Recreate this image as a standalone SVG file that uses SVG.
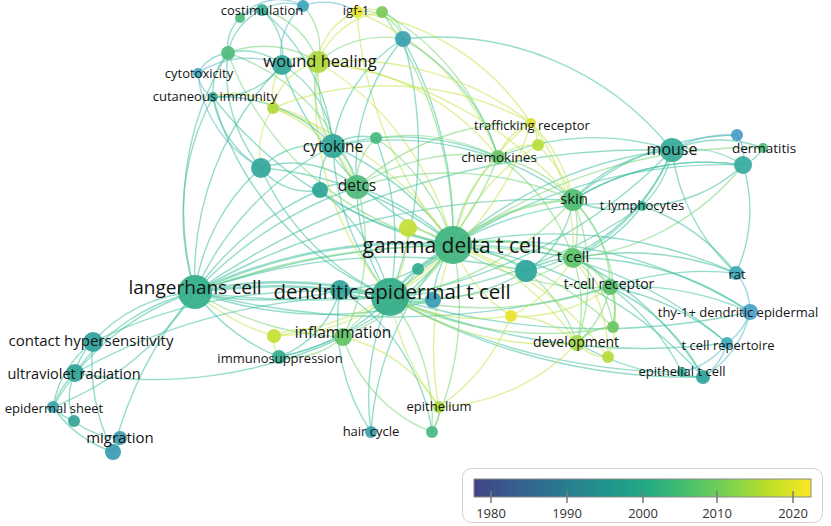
<svg xmlns="http://www.w3.org/2000/svg" width="831" height="526" viewBox="0 0 831 526">
<style>
.e path{fill:none;stroke-width:1.4;stroke-opacity:.55}
.t{stroke:#3fc0a0}
.g{stroke:#78d67a}
.y{stroke:#c4e650}
.b{stroke:#58b8c6}
.w{stroke-width:2.6 !important}
circle{fill-opacity:.92}
text{font-family:"Open Sans","Noto Sans","DejaVu Sans",sans-serif;fill:#151515;text-anchor:middle}
.s13{font-size:13px}.s14{font-size:14px}.s15{font-size:15px}.s16{font-size:16px}
.leg{font-size:13px;fill:#333}
</style>
<defs>
<linearGradient id="vir" x1="0" y1="0" x2="1" y2="0">
<stop offset="0" stop-color="#414487"/><stop offset=".125" stop-color="#355f8d"/><stop offset=".25" stop-color="#2a788e"/><stop offset=".375" stop-color="#21918c"/><stop offset=".5" stop-color="#22a884"/><stop offset=".625" stop-color="#44bf70"/><stop offset=".75" stop-color="#7ad151"/><stop offset=".875" stop-color="#bddf26"/><stop offset="1" stop-color="#fde725"/>
</linearGradient>
</defs>
<rect width="831" height="526" fill="#fff"/>
<g id="connectors" class="e">
<path class="t w" d="M195 292A400 400 0 0 1 390 297"/>
<path class="t w" d="M195 292A600 600 0 0 1 390 297"/>
<path class="t" d="M195 292A900 900 0 0 0 390 297"/>
<path class="t w" d="M195 292A500 500 0 0 1 453 245"/>
<path class="t" d="M195 292A800 800 0 0 1 453 245"/>
<path class="t" d="M195 292A600 600 0 0 1 526 271"/>
<path class="g" d="M195 292A700 700 0 0 1 573 258"/>
<path class="t" d="M195 292A700 700 0 0 1 573 200"/>
<path class="t" d="M195 292A400 400 0 0 1 357 187"/>
<path class="t" d="M195 292A300 300 0 0 1 320 190"/>
<path class="t" d="M195 292A200 200 0 0 1 261 168"/>
<path class="t" d="M195 292A300 300 0 0 1 333 146"/>
<path class="t" d="M195 292A250 250 0 0 1 213 97"/>
<path class="t" d="M195 292A300 300 0 0 1 228 53"/>
<path class="t" d="M195 292A300 300 0 0 0 340 290"/>
<path class="t" d="M195 292A400 400 0 0 0 433 300"/>
<path class="t" d="M195 292A150 150 0 0 0 93 342"/>
<path class="t" d="M195 292A200 200 0 0 0 75 373"/>
<path class="t" d="M195 292A250 250 0 0 0 53 407"/>
<path class="t" d="M195 292A400 400 0 0 0 113 452"/>
<path class="t" d="M195 292A200 200 0 0 0 279 357"/>
<path class="y" d="M195 292A200 200 0 0 0 274 336"/>
<path class="g" d="M195 292A300 300 0 0 0 343 337"/>
<path class="t" d="M195 292A800 800 0 0 1 672 150"/>
<path class="t" d="M195 292A800 800 0 0 0 610 287"/>
<path class="t" d="M195 292A300 300 0 0 1 282 65"/>
<path class="t" d="M93 342A60 60 0 0 0 75 373"/>
<path class="t" d="M93 342A100 100 0 0 0 53 407"/>
<path class="t" d="M93 342A500 500 0 0 1 390 297"/>
<path class="t" d="M93 342A200 200 0 0 0 113 452"/>
<path class="t" d="M75 373A80 80 0 0 0 53 407"/>
<path class="t" d="M75 373A60 60 0 0 0 74 421"/>
<path class="t" d="M75 373A450 450 0 0 0 343 337"/>
<path class="t" d="M75 373A600 600 0 0 1 390 297"/>
<path class="t" d="M53 407A50 50 0 0 0 74 421"/>
<path class="t" d="M53 407A120 120 0 0 0 113 452"/>
<path class="t" d="M53 407A300 300 0 0 0 195 292"/>
<path class="t" d="M74 421A80 80 0 0 0 120 438"/>
<path class="t" d="M120 438A20 20 0 0 1 113 452"/>
<path class="t w" d="M453 245A200 200 0 0 0 390 297"/>
<path class="t" d="M453 245A250 250 0 0 0 357 187"/>
<path class="t" d="M453 245A300 300 0 0 0 333 146"/>
<path class="t" d="M453 245A300 300 0 0 1 320 190"/>
<path class="t" d="M453 245A350 350 0 0 0 261 168"/>
<path class="g" d="M453 245A200 200 0 0 0 376 138"/>
<path class="t" d="M453 245A400 400 0 0 0 403 39"/>
<path class="t" d="M453 245A400 400 0 0 1 213 97"/>
<path class="t" d="M453 245A150 150 0 0 1 526 271"/>
<path class="t" d="M453 245A80 80 0 0 1 418 269"/>
<path class="t" d="M453 245A100 100 0 0 0 433 300"/>
<path class="t" d="M453 245A200 200 0 0 1 340 290"/>
<path class="t" d="M453 245A300 300 0 0 1 279 357"/>
<path class="g" d="M453 245A300 300 0 0 1 432 432"/>
<path class="t" d="M453 245A300 300 0 0 0 371 432"/>
<path class="t" d="M453 245A400 400 0 0 1 703 377"/>
<path class="t" d="M453 245A400 400 0 0 1 727 343"/>
<path class="t" d="M453 245A450 450 0 0 1 750 312"/>
<path class="t" d="M453 245A450 450 0 0 1 736 273"/>
<path class="t" d="M453 245A300 300 0 0 1 642 206"/>
<path class="t" d="M453 245A400 400 0 0 1 672 150"/>
<path class="t" d="M453 245A500 500 0 0 1 743 165"/>
<path class="t" d="M453 245A300 300 0 0 1 282 65"/>
<path class="g w" d="M453 245A200 200 0 0 1 573 200"/>
<path class="g w" d="M453 245A200 200 0 0 1 573 258"/>
<path class="g" d="M453 245A250 250 0 0 0 610 287"/>
<path class="g" d="M453 245A150 150 0 0 1 498 157"/>
<path class="g" d="M453 245A250 250 0 0 1 343 337"/>
<path class="g" d="M453 245A300 300 0 0 1 613 327"/>
<path class="g" d="M453 245A400 400 0 0 0 382 12"/>
<path class="g" d="M453 245A500 500 0 0 1 763 148"/>
<path class="g" d="M453 245A300 300 0 0 1 228 53"/>
<path class="y" d="M453 245A300 300 0 0 0 318 62"/>
<path class="y" d="M453 245A400 400 0 0 1 357 12"/>
<path class="y" d="M453 245A350 350 0 0 0 273 108"/>
<path class="y" d="M453 245A100 100 0 0 0 408 228"/>
<path class="y" d="M453 245A300 300 0 0 1 274 336"/>
<path class="y" d="M453 245A300 300 0 0 0 439 407"/>
<path class="y" d="M453 245A250 250 0 0 1 577 343"/>
<path class="y" d="M453 245A150 150 0 0 0 511 316"/>
<path class="y" d="M453 245A300 300 0 0 1 608 357"/>
<path class="y" d="M453 245A200 200 0 0 1 531 123"/>
<path class="y" d="M453 245A200 200 0 0 1 538 145"/>
<path class="t" d="M390 297A200 200 0 0 1 357 187"/>
<path class="t" d="M390 297A250 250 0 0 1 333 146"/>
<path class="t" d="M390 297A200 200 0 0 0 320 190"/>
<path class="t" d="M390 297A250 250 0 0 1 261 168"/>
<path class="t" d="M390 297A300 300 0 0 0 376 138"/>
<path class="t" d="M390 297A400 400 0 0 0 403 39"/>
<path class="t" d="M390 297A80 80 0 0 1 340 290"/>
<path class="t" d="M390 297A80 80 0 0 0 433 300"/>
<path class="t" d="M390 297A80 80 0 0 0 418 269"/>
<path class="t" d="M390 297A200 200 0 0 0 526 271"/>
<path class="t" d="M390 297A500 500 0 0 0 672 150"/>
<path class="t" d="M390 297A200 200 0 0 1 279 357"/>
<path class="t" d="M390 297A250 250 0 0 0 371 432"/>
<path class="g" d="M390 297A200 200 0 0 1 432 432"/>
<path class="t" d="M390 297A600 600 0 0 0 703 377"/>
<path class="t" d="M390 297A600 600 0 0 0 682 372"/>
<path class="t" d="M390 297A650 650 0 0 0 727 343"/>
<path class="t" d="M390 297A700 700 0 0 0 750 312"/>
<path class="t" d="M390 297A500 500 0 0 0 642 206"/>
<path class="t" d="M390 297A300 300 0 0 1 213 97"/>
<path class="g" d="M390 297A300 300 0 0 0 573 258"/>
<path class="g" d="M390 297A400 400 0 0 0 610 287"/>
<path class="g" d="M390 297A300 300 0 0 0 573 200"/>
<path class="g" d="M390 297A300 300 0 0 0 498 157"/>
<path class="g" d="M390 297A150 150 0 0 0 343 337"/>
<path class="g" d="M390 297A350 350 0 0 0 613 327"/>
<path class="y" d="M390 297A300 300 0 0 1 318 62"/>
<path class="y" d="M390 297A150 150 0 0 0 408 228"/>
<path class="y" d="M390 297A200 200 0 0 1 274 336"/>
<path class="y" d="M390 297A250 250 0 0 0 439 407"/>
<path class="y" d="M390 297A300 300 0 0 0 577 343"/>
<path class="y" d="M390 297A200 200 0 0 0 511 316"/>
<path class="y" d="M390 297A300 300 0 0 0 531 123"/>
<path class="g" d="M573 258A100 100 0 0 0 573 200"/>
<path class="g w" d="M573 258A80 80 0 0 1 610 287"/>
<path class="t" d="M573 258A100 100 0 0 0 526 271"/>
<path class="g" d="M573 258A150 150 0 0 1 577 343"/>
<path class="g" d="M573 258A100 100 0 0 1 613 327"/>
<path class="g" d="M573 258A200 200 0 0 0 498 157"/>
<path class="t" d="M573 258A150 150 0 0 0 642 206"/>
<path class="t" d="M573 258A200 200 0 0 0 672 150"/>
<path class="t" d="M573 258A300 300 0 0 1 736 273"/>
<path class="t" d="M573 258A300 300 0 0 1 703 377"/>
<path class="t" d="M573 258A300 300 0 0 1 750 312"/>
<path class="y" d="M573 258A150 150 0 0 1 511 316"/>
<path class="y" d="M573 258A150 150 0 0 1 608 357"/>
<path class="y" d="M573 258A200 200 0 0 0 531 123"/>
<path class="t" d="M610 287A300 300 0 0 1 736 273"/>
<path class="t" d="M610 287A200 200 0 0 1 703 377"/>
<path class="t" d="M610 287A250 250 0 0 1 727 343"/>
<path class="g" d="M610 287A100 100 0 0 1 577 343"/>
<path class="g" d="M610 287A60 60 0 0 1 613 327"/>
<path class="y" d="M610 287A100 100 0 0 1 608 357"/>
<path class="g" d="M610 287A120 120 0 0 0 573 200"/>
<path class="y" d="M610 287A150 150 0 0 1 511 316"/>
<path class="t" d="M610 287A300 300 0 0 1 750 312"/>
<path class="t" d="M610 287A250 250 0 0 1 682 372"/>
<path class="t" d="M573 200A150 150 0 0 1 672 150"/>
<path class="t" d="M573 200A100 100 0 0 0 642 206"/>
<path class="g" d="M573 200A150 150 0 0 0 498 157"/>
<path class="y" d="M573 200A150 150 0 0 0 531 123"/>
<path class="y" d="M573 200A150 150 0 0 0 538 145"/>
<path class="t" d="M573 200A250 250 0 0 1 743 165"/>
<path class="t" d="M573 200A100 100 0 0 1 526 271"/>
<path class="g" d="M573 200A200 200 0 0 1 577 343"/>
<path class="t" d="M573 200A250 250 0 0 1 737 135"/>
<path class="g" d="M573 200A300 300 0 0 0 357 187"/>
<path class="t" d="M573 200A300 300 0 0 0 333 146"/>
<path class="y" d="M573 200A400 400 0 0 0 318 62"/>
<path class="g" d="M573 200A150 150 0 0 1 613 327"/>
<path class="t" d="M672 150A100 100 0 0 1 743 165"/>
<path class="b" d="M672 150A120 120 0 0 1 737 135"/>
<path class="t" d="M672 150A100 100 0 0 1 642 206"/>
<path class="t" d="M672 150A250 250 0 0 0 498 157"/>
<path class="t" d="M672 150A300 300 0 0 0 403 39"/>
<path class="t" d="M672 150A200 200 0 0 1 526 271"/>
<path class="t" d="M672 150A120 120 0 0 1 763 148"/>
<path class="t" d="M672 150A200 200 0 0 0 736 273"/>
<path class="b" d="M743 165A40 40 0 0 0 737 135"/>
<path class="t" d="M743 165A40 40 0 0 0 763 148"/>
<path class="t" d="M743 165A150 150 0 0 1 736 273"/>
<path class="t" d="M743 165A150 150 0 0 1 642 206"/>
<path class="g" d="M743 165A250 250 0 0 1 573 258"/>
<path class="t" d="M743 165A250 250 0 0 0 573 200"/>
<path class="b" d="M736 273A60 60 0 0 1 750 312"/>
<path class="t" d="M736 273A200 200 0 0 0 642 206"/>
<path class="b" d="M750 312A60 60 0 0 1 727 343"/>
<path class="b" d="M750 312A100 100 0 0 1 703 377"/>
<path class="b" d="M727 343A60 60 0 0 1 703 377"/>
<path class="b" d="M727 343A80 80 0 0 1 682 372"/>
<path class="t" d="M682 372A30 30 0 0 0 703 377"/>
<path class="y" d="M577 343A40 40 0 0 0 608 357"/>
<path class="g" d="M577 343A50 50 0 0 1 613 327"/>
<path class="y" d="M577 343A100 100 0 0 0 511 316"/>
<path class="y" d="M577 343A200 200 0 0 1 439 407"/>
<path class="g" d="M577 343A150 150 0 0 0 526 271"/>
<path class="t" d="M577 343A250 250 0 0 0 703 377"/>
<path class="y" d="M498 157A60 60 0 0 1 531 123"/>
<path class="y" d="M498 157A60 60 0 0 1 538 145"/>
<path class="g" d="M498 157A200 200 0 0 0 357 187"/>
<path class="t" d="M498 157A250 250 0 0 0 333 146"/>
<path class="g" d="M498 157A200 200 0 0 0 376 138"/>
<path class="y" d="M498 157A250 250 0 0 0 318 62"/>
<path class="y" d="M498 157A250 250 0 0 0 357 12"/>
<path class="g" d="M498 157A250 250 0 0 0 382 12"/>
<path class="t" d="M498 157A200 200 0 0 0 403 39"/>
<path class="y" d="M531 123A40 40 0 0 1 538 145"/>
<path class="y" d="M531 123A300 300 0 0 0 318 62"/>
<path class="y" d="M531 123A300 300 0 0 0 273 108"/>
<path class="y" d="M531 123A250 250 0 0 0 357 12"/>
<path class="g" d="M531 123A250 250 0 0 0 357 187"/>
<path class="t" d="M357 187A60 60 0 0 0 333 146"/>
<path class="t" d="M357 187A40 40 0 0 0 320 190"/>
<path class="t" d="M357 187A100 100 0 0 0 261 168"/>
<path class="g" d="M357 187A60 60 0 0 1 376 138"/>
<path class="t" d="M357 187A200 200 0 0 1 403 39"/>
<path class="g" d="M357 187A200 200 0 0 0 228 53"/>
<path class="y" d="M357 187A150 150 0 0 0 273 108"/>
<path class="g" d="M357 187A200 200 0 0 1 343 337"/>
<path class="g" d="M357 187A200 200 0 0 1 318 62"/>
<path class="t" d="M333 146A80 80 0 0 0 261 168"/>
<path class="t" d="M333 146A60 60 0 0 0 320 190"/>
<path class="t" d="M333 146A50 50 0 0 1 376 138"/>
<path class="g" d="M333 146A100 100 0 0 1 318 62"/>
<path class="t" d="M333 146A100 100 0 0 0 282 65"/>
<path class="y" d="M333 146A80 80 0 0 0 273 108"/>
<path class="t" d="M333 146A150 150 0 0 1 403 39"/>
<path class="t" d="M333 146A150 150 0 0 0 213 97"/>
<path class="t" d="M333 146A200 200 0 0 0 262 10"/>
<path class="t" d="M261 168A100 100 0 0 1 213 97"/>
<path class="t" d="M261 168A150 150 0 0 1 228 53"/>
<path class="b" d="M261 168A120 120 0 0 1 198 73"/>
<path class="t" d="M261 168A60 60 0 0 0 320 190"/>
<path class="y" d="M261 168A80 80 0 0 1 273 108"/>
<path class="y" d="M273 108A60 60 0 0 0 213 97"/>
<path class="y" d="M273 108A60 60 0 0 1 282 65"/>
<path class="y" d="M273 108A60 60 0 0 1 318 62"/>
<path class="g" d="M318 62A30 30 0 0 0 282 65"/>
<path class="y" d="M318 62A60 60 0 0 1 357 12"/>
<path class="y" d="M318 62A80 80 0 0 1 382 12"/>
<path class="g" d="M318 62A100 100 0 0 1 403 39"/>
<path class="g" d="M318 62A80 80 0 0 0 262 10"/>
<path class="g" d="M318 62A100 100 0 0 0 228 53"/>
<path class="g" d="M318 62A60 60 0 0 0 303 6"/>
<path class="t" d="M282 65A60 60 0 0 0 262 10"/>
<path class="b" d="M282 65A60 60 0 0 1 303 6"/>
<path class="t" d="M282 65A60 60 0 0 0 228 53"/>
<path class="t" d="M282 65A80 80 0 0 1 213 97"/>
<path class="b" d="M282 65A90 90 0 0 0 198 73"/>
<path class="b" d="M262 10A50 50 0 0 1 303 6"/>
<path class="t" d="M262 10A30 30 0 0 0 240 18"/>
<path class="t" d="M262 10A60 60 0 0 0 228 53"/>
<path class="b" d="M303 6A60 60 0 0 1 357 12"/>
<path class="b" d="M303 6A50 50 0 0 0 240 18"/>
<path class="y" d="M357 12A30 30 0 0 1 382 12"/>
<path class="g" d="M357 12A40 40 0 0 1 403 39"/>
<path class="g" d="M382 12A30 30 0 0 1 403 39"/>
<path class="t" d="M228 53A60 60 0 0 0 213 97"/>
<path class="b" d="M228 53A40 40 0 0 0 198 73"/>
<path class="t" d="M228 53A40 40 0 0 1 240 18"/>
<path class="b" d="M213 97A30 30 0 0 1 198 73"/>
<path class="t" d="M371 432A200 200 0 0 1 340 290"/>
<path class="g" d="M439 407A40 40 0 0 1 432 432"/>
<path class="y" d="M439 407A150 150 0 0 0 343 337"/>
<path class="y" d="M439 407A200 200 0 0 0 511 316"/>
<path class="t" d="M432 432A200 200 0 0 0 340 290"/>
<path class="y" d="M343 337A80 80 0 0 0 274 336"/>
<path class="g" d="M343 337A80 80 0 0 1 279 357"/>
<path class="g" d="M343 337A150 150 0 0 0 432 432"/>
<path class="y" d="M279 357A30 30 0 0 1 274 336"/>
<path class="t" d="M279 357A100 100 0 0 0 340 290"/>
</g>
<g id="n-unl-1"><circle cx="74" cy="421" r="6" fill="#35a396"/></g>
<g id="n-unl-2"><circle cx="113" cy="452" r="8" fill="#3b9bb2"/></g>
<g id="n-unl-3"><circle cx="274" cy="336" r="7" fill="#c6df35"/></g>
<g id="n-unl-4"><circle cx="432" cy="432" r="6" fill="#48b985"/></g>
<g id="n-unl-5"><circle cx="340" cy="290" r="10" fill="#2fa59a"/></g>
<g id="n-unl-6"><circle cx="433" cy="300" r="8" fill="#3a9bb5"/></g>
<g id="n-unl-7"><circle cx="418" cy="269" r="6" fill="#35aa8e"/></g>
<g id="n-unl-8"><circle cx="408" cy="228" r="9" fill="#c3de36"/></g>
<g id="n-unl-9"><circle cx="526" cy="271" r="11" fill="#2ea49a"/></g>
<g id="n-unl-10"><circle cx="511" cy="316" r="6" fill="#e9e42a"/></g>
<g id="n-unl-11"><circle cx="613" cy="327" r="6" fill="#6cc562"/></g>
<g id="n-unl-12"><circle cx="608" cy="357" r="6" fill="#b6db3c"/></g>
<g id="n-unl-13"><circle cx="703" cy="377" r="7" fill="#31a29c"/></g>
<g id="n-unl-14"><circle cx="737" cy="135" r="6" fill="#4a9bc4"/></g>
<g id="n-unl-15"><circle cx="743" cy="165" r="9" fill="#35ab9d"/></g>
<g id="n-unl-16"><circle cx="538" cy="145" r="6" fill="#b9dc3a"/></g>
<g id="n-unl-17"><circle cx="320" cy="190" r="8" fill="#2fa598"/></g>
<g id="n-unl-18"><circle cx="261" cy="168" r="10" fill="#32a69b"/></g>
<g id="n-unl-19"><circle cx="376" cy="138" r="6" fill="#47b87f"/></g>
<g id="n-unl-20"><circle cx="273" cy="108" r="6" fill="#b3d93c"/></g>
<g id="n-unl-21"><circle cx="228" cy="53" r="7" fill="#4dbc7c"/></g>
<g id="n-unl-22"><circle cx="282" cy="65" r="10" fill="#2fa79b"/></g>
<g id="n-unl-23"><circle cx="240" cy="18" r="5" fill="#4eba7b"/></g>
<g id="n-unl-24"><circle cx="303" cy="6" r="6" fill="#3ea5b8"/></g>
<g id="n-unl-25"><circle cx="382" cy="12" r="6" fill="#7bcb5c"/></g>
<g id="n-unl-26"><circle cx="403" cy="39" r="8" fill="#39a2b1"/></g>
<g id="n-gamma-delta-t-cell"><circle cx="453" cy="245" r="19" fill="#3fb47f"/><text x="452" y="253" style="font-size:21px">gamma delta t cell</text></g>
<g id="n-dendritic-epidermal-t-cell"><circle cx="390" cy="297" r="19" fill="#33ab88"/><text x="392" y="299" style="font-size:20.5px">dendritic epidermal t cell</text></g>
<g id="n-langerhans-cell"><circle cx="195" cy="292" r="17" fill="#33ae8a"/><text x="195" y="294" style="font-size:19px">langerhans cell</text></g>
<g id="n-contact-hypersensitivity"><circle cx="93" cy="342" r="10" fill="#2f9f9a"/><text x="91" y="346" class="s15">contact hypersensitivity</text></g>
<g id="n-ultraviolet-radiation"><circle cx="75" cy="373" r="9" fill="#2fa296"/><text x="74" y="379" style="font-size:14.5px">ultraviolet radiation</text></g>
<g id="n-epidermal-sheet"><circle cx="53" cy="407" r="6" fill="#3ba3ad"/><text x="54" y="413" class="s13">epidermal sheet</text></g>
<g id="n-migration"><circle cx="120" cy="438" r="7" fill="#3a9db0"/><text x="120" y="443" class="s15">migration</text></g>
<g id="n-immunosuppression"><circle cx="279" cy="357" r="7" fill="#34ad8f"/><text x="280" y="363" class="s13">immunosuppression</text></g>
<g id="n-inflammation"><circle cx="343" cy="337" r="9" fill="#63c266"/><text x="343" y="338" style="font-size:15.5px">inflammation</text></g>
<g id="n-hair-cycle"><circle cx="371" cy="432" r="6" fill="#399fac"/><text x="371" y="436" class="s13">hair cycle</text></g>
<g id="n-epithelium"><circle cx="439" cy="407" r="6" fill="#a9d93c"/><text x="439" y="411" class="s13">epithelium</text></g>
<g id="n-development"><circle cx="577" cy="343" r="8" fill="#a3d74a"/><text x="576" y="347" class="s14">development</text></g>
<g id="n-t-cell-receptor"><circle cx="610" cy="287" r="8" fill="#57c06c"/><text x="609" y="289" class="s14">t-cell receptor</text></g>
<g id="n-thy-1-dendritic-epidermal"><circle cx="750" cy="312" r="8" fill="#489fc4"/><text x="738" y="317" class="s13">thy-1+ dendritic epidermal</text></g>
<g id="n-t-cell-repertoire"><circle cx="727" cy="343" r="6" fill="#3ea8bc"/><text x="728" y="350" class="s13">t cell repertoire</text></g>
<g id="n-epithelial-t-cell"><circle cx="682" cy="372" r="5" fill="#3db1a2"/><text x="682" y="376" class="s13">epithelial t cell</text></g>
<g id="n-rat"><circle cx="736" cy="273" r="7" fill="#3ea7b7"/><text x="737" y="279" class="s13">rat</text></g>
<g id="n-t-cell"><circle cx="573" cy="258" r="10" fill="#5cc369"/><text x="573" y="262" class="s15">t cell</text></g>
<g id="n-skin"><circle cx="573" cy="200" r="11" fill="#4fbd73"/><text x="574" y="204" class="s15">skin</text></g>
<g id="n-t-lymphocytes"><circle cx="642" cy="206" r="5" fill="#3ab699"/><text x="642" y="210" class="s13">t lymphocytes</text></g>
<g id="n-mouse"><circle cx="672" cy="150" r="12" fill="#34aa99"/><text x="672" y="155" class="s16">mouse</text></g>
<g id="n-dermatitis"><circle cx="763" cy="148" r="5" fill="#4fc07a"/><text x="764" y="153" style="font-size:13.5px">dermatitis</text></g>
<g id="n-chemokines"><circle cx="498" cy="157" r="7" fill="#66c466"/><text x="499" y="162" style="font-size:13.5px">chemokines</text></g>
<g id="n-trafficking-receptor"><circle cx="531" cy="123" r="5" fill="#dde22e"/><text x="532" y="130" class="s13">trafficking receptor</text></g>
<g id="n-detcs"><circle cx="357" cy="187" r="12" fill="#4eba7a"/><text x="357" y="191" style="font-size:15.5px">detcs</text></g>
<g id="n-cytokine"><circle cx="333" cy="146" r="12" fill="#30a79a"/><text x="333" y="152" style="font-size:15.5px">cytokine</text></g>
<g id="n-cutaneous-immunity"><circle cx="213" cy="97" r="5" fill="#36ae98"/><text x="215" y="101" class="s13">cutaneous immunity</text></g>
<g id="n-cytotoxicity"><circle cx="198" cy="73" r="5" fill="#45a6bf"/><text x="199" y="78" class="s13">cytotoxicity</text></g>
<g id="n-wound-healing"><circle cx="318" cy="62" r="11" fill="#b0d83d"/><text x="320" y="67" style="font-size:16.5px">wound healing</text></g>
<g id="n-costimulation"><circle cx="262" cy="10" r="6" fill="#36ad98"/><text x="262" y="15" class="s13">costimulation</text></g>
<g id="n-igf-1"><circle cx="357" cy="12" r="6" fill="#e6e42b"/><text x="356" y="15" class="s13">igf-1</text></g>
<g id="legend">
<rect x="462.5" y="468.5" width="360" height="54" rx="9" fill="#fff" stroke="#d2d2d2"/>
<rect x="474" y="479" width="337" height="18" fill="url(#vir)" stroke="#8a8a8a"/>
<g stroke="#7a7a7a" stroke-width="1.5"><path d="M491 491V503M567 491V503M643 491V503M717 491V503M793 491V503"/></g>
<text class="leg" x="491" y="518">1980</text><text class="leg" x="567" y="518">1990</text><text class="leg" x="643" y="518">2000</text><text class="leg" x="717" y="518">2010</text><text class="leg" x="793" y="518">2020</text>
</g>
</svg>
